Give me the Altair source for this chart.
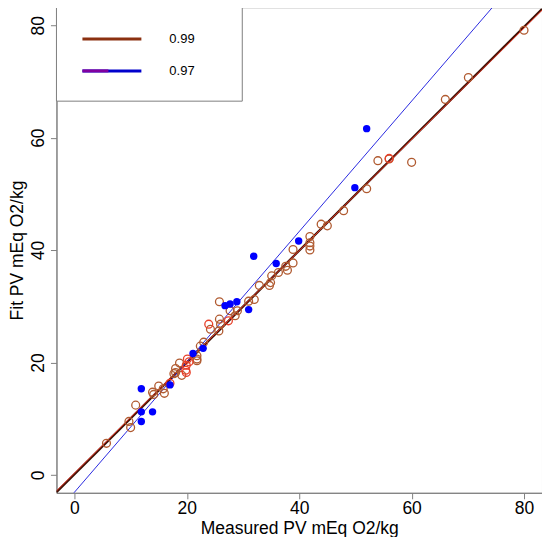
import altair as alt
import pandas as pd

# ---- data ----
brown_x = [5.7, 9.7, 10.0, 10.9, 13.9, 14.1, 15.0, 16.0, 15.8, 18.0, 18.7, 19.1, 21.8, 17.7, 18.0,
           21.8, 21.8, 22.4, 23.0, 24.2, 25.7, 26.0, 25.8, 25.8, 27.7, 28.6, 29.0, 31.0, 32.0, 32.9,
           34.7, 34.9, 35.1, 36.3, 37.6, 37.9, 38.9, 38.9, 41.9, 41.9, 41.9, 41.9, 43.9, 45.0, 47.9,
           52.0, 54.0, 56.0, 60.0, 66.0, 70.1, 80.0]
brown_y = [5.6, 9.5, 8.4, 12.4, 14.7, 14.3, 15.8, 14.5, 15.3, 18.2, 19.9, 17.7, 20.3, 18.0, 18.9,
           21.2, 20.6, 22.9, 23.6, 25.9, 25.6, 26.8, 27.7, 30.8, 29.2, 28.3, 29.2, 30.9, 31.2, 33.7,
           33.7, 34.2, 35.4, 36.0, 37.1, 36.4, 37.7, 40.1, 42.4, 41.3, 40.7, 40.0, 44.6, 44.3, 47.0,
           50.9, 55.9, 56.2, 55.6, 66.8, 70.7, 79.1]
red_x = [19.8, 19.9, 20.4, 20.1, 19.9, 23.9, 27.4, 56.0, 17.0]
red_y = [18.6, 18.2, 20.1, 20.6, 19.5, 26.8, 27.4, 56.3, 16.3]
blue_x = [11.9, 11.9, 13.9, 11.9, 17.0, 21.1, 22.9, 26.8, 27.7, 28.9, 31.0, 31.9, 35.9, 39.9, 49.9, 52.0]
blue_y = [15.3, 11.2, 11.2, 9.5, 16.0, 21.6, 22.5, 30.1, 30.4, 30.8, 29.4, 38.9, 37.6, 41.6, 51.1, 61.6]

fit_names = ["dark", "red", "blue"]
fit_slope = [0.995, 0.99, 1.16]
fit_intercept = [0.1, 0.3, -3.1]
fit_colors = ["#3c1206", "#e03020", "#2a2ae0"]
fit_widths = [2.2, 1.0, 1.0]

legend_labels = ["0.99", "0.97"]
tick_vals = [0, 20, 40, 60, 80]
DOM = [-3.2, 83.2]

GRAY = "#808080"
FONT = "Liberation Sans"
PLOT = 486

xs = alt.Scale(domain=DOM, nice=False, zero=False)
ys = alt.Scale(domain=DOM, nice=False, zero=False)
xax = alt.Axis(values=tick_vals, grid=False, domainColor=GRAY, tickColor=GRAY, tickSize=6,
               labelFontSize=17.5, titleFontSize=17.5, labelColor="black", titleColor="black",
               titleFontWeight="normal", labelPadding=1, titlePadding=2, labelFont=FONT, titleFont=FONT)
yax = alt.Axis(values=tick_vals, grid=False, domainColor=GRAY, tickColor=GRAY, tickSize=6,
               labelFontSize=17.5, titleFontSize=17.5, labelColor="black", titleColor="black",
               titleFontWeight="normal", labelAngle=-90, labelAlign="center", labelBaseline="alphabetic",
               labelPadding=7, titlePadding=3, labelFont=FONT, titleFont=FONT)

# lines (abline style over the whole plot)
rows = []
for n, b, a in zip(fit_names, fit_slope, fit_intercept):
    for x in DOM:
        rows.append({"fit": n, "x": x, "y": a + b * x})
lines_df = pd.DataFrame(rows)

layers = []
for n, c, w in zip(fit_names, fit_colors, fit_widths):
    layers.append(
        alt.Chart(lines_df[lines_df.fit == n]).mark_line(color=c, strokeWidth=w, clip=True).encode(
            x=alt.X("x:Q", scale=xs, axis=xax, title="Measured PV mEq O2/kg"),
            y=alt.Y("y:Q", scale=ys, axis=yax, title="Fit PV mEq O2/kg"),
        )
    )

brown_df = pd.DataFrame({"x": brown_x, "y": brown_y})
red_df = pd.DataFrame({"x": red_x, "y": red_y})
blue_df = pd.DataFrame({"x": blue_x, "y": blue_y})

pts_brown = alt.Chart(brown_df).mark_point(shape="circle", filled=False, color="#b05a30",
                                           size=62, strokeWidth=1.3, opacity=1).encode(
    x=alt.X("x:Q", scale=xs), y=alt.Y("y:Q", scale=ys))
pts_red = alt.Chart(red_df).mark_point(shape="circle", filled=False, color="#e8402a",
                                       size=62, strokeWidth=1.3, opacity=1).encode(
    x=alt.X("x:Q", scale=xs), y=alt.Y("y:Q", scale=ys))
pts_blue = alt.Chart(blue_df).mark_circle(color="#0000ff", size=55, opacity=1).encode(
    x=alt.X("x:Q", scale=xs), y=alt.Y("y:Q", scale=ys))

one = pd.DataFrame({"k": [0]})
leg_box = alt.Chart(one).mark_rect(fill="white", stroke=GRAY, strokeWidth=1).encode(
    x=alt.value(0), x2=alt.value(186), y=alt.value(0), y2=alt.value(94))
leg_l1 = alt.Chart(one).mark_rule(color="#8b3010", strokeWidth=3).encode(
    x=alt.value(26), x2=alt.value(85), y=alt.value(31.7))
leg_l2a = alt.Chart(one).mark_rule(color="#0000cc", strokeWidth=3).encode(
    x=alt.value(26), x2=alt.value(85), y=alt.value(63.7))
leg_l2b = alt.Chart(one).mark_rule(color="#8000a0", strokeWidth=3).encode(
    x=alt.value(26), x2=alt.value(52), y=alt.value(63.7))
leg_t1 = alt.Chart(one).mark_text(align="left", baseline="middle", fontSize=13, font=FONT,
                                  color="black").encode(
    x=alt.value(113), y=alt.value(31.7), text=alt.value(legend_labels[0]))
leg_t2 = alt.Chart(one).mark_text(align="left", baseline="middle", fontSize=13, font=FONT,
                                  color="black").encode(
    x=alt.value(113), y=alt.value(63.7), text=alt.value(legend_labels[1]))

chart = alt.layer(
    *layers, pts_brown, pts_red, pts_blue,
    leg_box, leg_l1, leg_l2a, leg_l2b, leg_t1, leg_t2
).properties(
    width=PLOT, height=PLOT,
    padding={"left": 0.5, "top": -2, "right": 0, "bottom": 0},
    background="white",
).configure_view(stroke=GRAY, strokeWidth=1)

chart.save("out.html", embed_options={"renderer": "svg", "actions": False})
